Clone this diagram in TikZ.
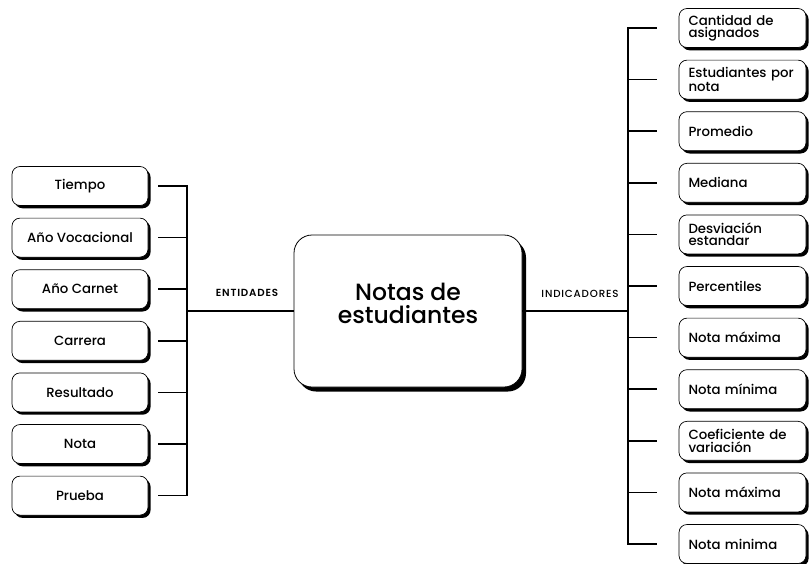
\documentclass[tikz,border=0pt]{standalone}
\usepackage{fontspec}
\setmainfont{Poppins}[UprightFont={* Medium}, BoldFont={* SemiBold}]
\usetikzlibrary{shadows}
\begin{document}
\begin{tikzpicture}[x=1pt,y=-1pt,
  card/.style={draw=black, line width=0.7pt, fill=white, rounded corners=8pt,
    minimum height=39pt, inner sep=0pt,
    drop shadow={shadow xshift=2.6pt, shadow yshift=-2.8pt, fill=black, opacity=1}},
  leftcard/.style={card, minimum width=136pt, font=\fontsize{13.3}{13}\selectfont},
  rightcard/.style={card, minimum width=127pt, text width=108pt, align=left,
    font=\fontsize{13.3}{12.5}\selectfont},
  hub/.style={draw=black, line width=0.8pt, fill=white, rounded corners=18pt,
    minimum width=228pt, minimum height=152pt,
    drop shadow={shadow xshift=4pt, shadow yshift=-4.5pt, fill=black, opacity=1}},
  hubtext/.style={align=center, inner sep=0pt, font=\fontsize{23.5}{23}\selectfont},
  wire/.style={line width=1.5pt, line cap=rect},
  tag/.style={font=\fontsize{10.3}{10}\selectfont\addfontfeatures{LetterSpace=8}}]
\useasboundingbox (0,0) rectangle (809,563);

% central topic
\node[hub] (c) at (408,311) {};
\node[hubtext] (ctitle) at (408,303) {Notas de\\estudiantes};

% entities on the left
\foreach \t [count=\i] in {Tiempo, Año Vocacional, Año Carnet, Carrera, Resultado, Nota, Prueba}
  \node[leftcard] (l\i) at (80,{186+51.6*(\i-1)}) {\t};

% indicators on the right
\node[rightcard] (r1) at (742.5,28) {Cantidad de\\asignados};
\node[rightcard] (r2) at (742.5,79.6) {Estudiantes por\\nota};
\node[rightcard] (r3) at (742.5,131.2) {Promedio};
\node[rightcard] (r4) at (742.5,182.8) {Mediana};
\node[rightcard] (r5) at (742.5,234.4) {Desviación\\estandar};
\node[rightcard] (r6) at (742.5,286) {Percentiles};
\node[rightcard] (r7) at (742.5,337.6) {Nota máxima};
\node[rightcard] (r8) at (742.5,389.2) {Nota mínima};
\node[rightcard] (r9) at (742.5,440.8) {Coeficiente de\\variación};
\node[rightcard] (r10) at (742.5,492.4) {Nota máxima};
\node[rightcard] (r11) at (742.5,544) {Nota minima};

% bus lines
\coordinate (lbus) at (187,0);
\coordinate (rbus) at (628,0);

\foreach \i in {1,...,7}
  \draw[wire] ([xshift=10pt]l\i.east) -- (l\i.east -| lbus);
\draw[wire] (l1.east -| lbus) -- (l7.east -| lbus);
\draw[wire] (lbus |- c.west) -- (c.west);

\foreach \i in {1,...,11}
  \draw[wire] ([xshift=-22pt]r\i.west) -- (r\i.west -| rbus);
\draw[wire] (r1.west -| rbus) -- (r11.west -| rbus);
\draw[wire] (c.east) -- (c.east -| rbus);

% branch labels
\node[tag, font=\fontsize{10.3}{10}\selectfont\bfseries\addfontfeatures{LetterSpace=8}] (ent) at (247,293) {ENTIDADES};
\node[tag] (ind) at (580,294) {INDICADORES};
\end{tikzpicture}
\end{document}
